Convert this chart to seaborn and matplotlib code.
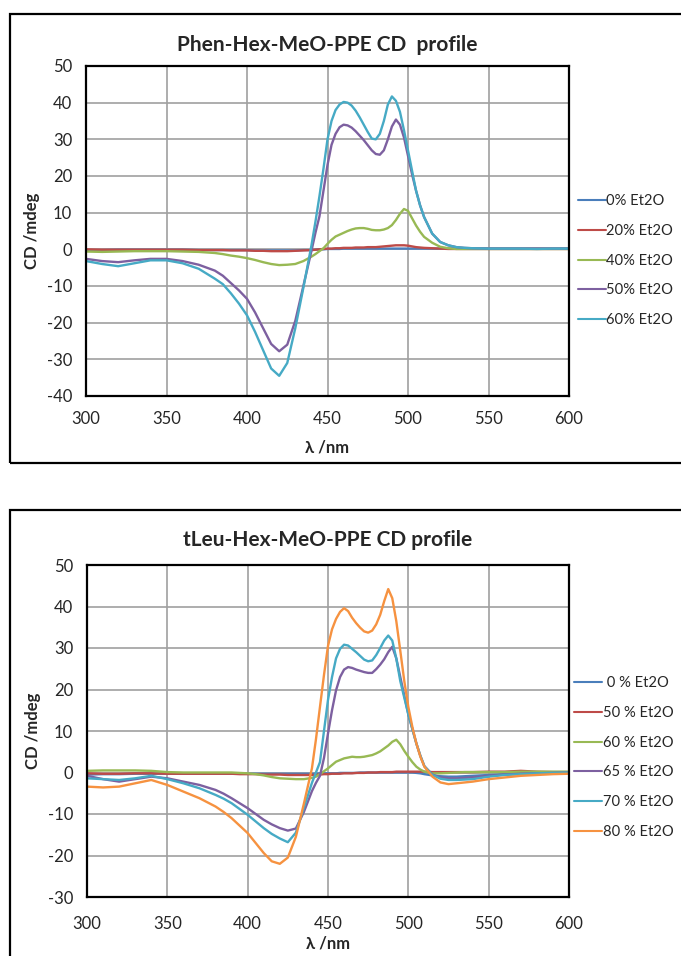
import matplotlib
matplotlib.use("Agg")
import matplotlib.pyplot as plt
from matplotlib.patches import Rectangle
from matplotlib.ticker import MultipleLocator, FuncFormatter
import seaborn as sns
import pandas as pd

# ---------------------------------------------------------------- data
wavelength = [300, 310, 320, 330, 340, 350, 360, 370, 380,
              385, 390, 395, 400, 405, 410, 415, 420, 425, 430, 435,
              440, 442.5, 445, 447.5, 450, 452.5, 455, 457.5, 460, 462.5,
              465, 467.5, 470, 472.5, 475, 477.5, 480, 482.5, 485, 487.5,
              490, 492.5, 495, 497.5, 500, 502.5, 505, 507.5, 510,
              515, 520, 525, 530, 535,
              540, 550, 560, 570, 580, 590, 600]

# Phen-Hex-MeO-PPE, CD (mdeg) vs Et2O content
phen_labels = ["0% Et2O", "20% Et2O", "40% Et2O", "50% Et2O", "60% Et2O"]
phen_0 = [-0.2, -0.2, -0.1, -0.1, -0.1, -0.1, -0.1, -0.2, -0.2,
          -0.2, -0.2, -0.2, -0.2, -0.3, -0.3, -0.3, -0.3, -0.3, -0.3, -0.2,
          -0.2, -0.1, 0.0, 0.0, 0.1, 0.1, 0.1, 0.1, 0.2, 0.2,
          0.2, 0.2, 0.2, 0.2, 0.2, 0.2, 0.2, 0.2, 0.2, 0.2,
          0.2, 0.2, 0.2, 0.2, 0.2, 0.2, 0.2, 0.2, 0.2,
          0.2, 0.2, 0.2, 0.2, 0.2,
          0.2, 0.2, 0.2, 0.2, 0.2, 0.2, 0.2]
phen_20 = [0.0, -0.1, -0.1, -0.1, -0.1, -0.1, -0.1, -0.2, -0.2,
           -0.2, -0.3, -0.3, -0.3, -0.4, -0.4, -0.5, -0.5, -0.5, -0.4, -0.3,
           -0.2, -0.1, 0.0, 0.1, 0.2, 0.2, 0.3, 0.3, 0.4, 0.4,
           0.4, 0.5, 0.5, 0.5, 0.6, 0.6, 0.6, 0.7, 0.8, 0.9,
           1.0, 1.1, 1.1, 1.1, 1.0, 0.8, 0.6, 0.5, 0.4,
           0.3, 0.2, 0.1, 0.1, 0.1,
           0.1, 0.1, 0.1, 0.1, 0.1, 0.1, 0.1]
phen_40 = [-0.6, -0.7, -0.6, -0.5, -0.5, -0.5, -0.6, -0.7, -1.0,
           -1.3, -1.7, -2.0, -2.4, -2.9, -3.5, -4.0, -4.3, -4.2, -4.0, -3.2,
           -2.0, -1.3, -0.5, 0.3, 1.5, 2.6, 3.5, 4.0, 4.5, 5.0,
           5.4, 5.7, 5.8, 5.8, 5.6, 5.3, 5.2, 5.2, 5.4, 5.8,
           6.6, 8.0, 9.7, 11.0, 10.5, 8.5, 6.5, 4.8, 3.4,
           1.8, 0.7, 0.3, 0.1, 0.1,
           0.1, 0.1, 0.1, 0.1, 0.1, 0.1, 0.1]
phen_50 = [-2.6, -3.2, -3.5, -3.0, -2.6, -2.6, -3.2, -4.2, -5.8,
           -7.2, -9.2, -11.2, -13.5, -17.2, -21.5, -25.8, -27.8, -26.0, -19.5, -10.0,
           -0.5, 4.5, 9.0, 16.0, 23.0, 28.5, 31.5, 33.3, 34.0, 33.8,
           33.2, 32.2, 31.0, 29.8, 28.4, 27.0, 26.0, 25.8, 27.0, 30.0,
           33.5, 35.4, 34.0, 30.5, 25.5, 20.5, 16.0, 12.0, 8.8,
           4.3, 2.0, 1.1, 0.6, 0.4,
           0.3, 0.2, 0.2, 0.2, 0.2, 0.2, 0.2]
phen_60 = [-3.2, -4.0, -4.6, -3.8, -3.0, -3.0, -3.8, -5.3, -8.0,
           -9.5, -12.0, -14.8, -18.0, -22.5, -27.5, -32.5, -34.5, -31.0, -21.5, -10.5,
           1.0, 7.5, 14.5, 22.0, 30.0, 35.0, 38.0, 39.5, 40.2, 40.0,
           39.2, 37.8, 36.0, 34.0, 32.0, 30.2, 30.0, 31.5, 35.0, 39.5,
           41.7, 40.5, 37.5, 32.5, 27.0, 21.5, 16.0, 12.0, 8.8,
           4.3, 2.0, 1.1, 0.6, 0.4,
           0.3, 0.2, 0.2, 0.2, 0.1, 0.2, 0.2]

# tLeu-Hex-MeO-PPE, CD (mdeg) vs Et2O content
tleu_labels = [" 0 % Et2O", "50 % Et2O", "60 % Et2O", "65 % Et2O",
               "70 % Et2O", "80 % Et2O"]
tleu_0 = [-0.5, -0.4, -0.4, -0.3, -0.3, -0.3, -0.3, -0.3, -0.3,
          -0.3, -0.3, -0.3, -0.3, -0.3, -0.3, -0.3, -0.3, -0.3, -0.3, -0.3,
          -0.3, -0.3, -0.2, -0.2, -0.2, -0.2, -0.2, -0.1, -0.1, -0.1,
          -0.1, -0.1, 0.0, 0.0, 0.0, 0.0, 0.0, 0.0, 0.0, 0.0,
          0.0, 0.0, 0.0, 0.0, 0.0, 0.0, -0.1, -0.2, -0.4,
          -0.7, -0.9, -1.0, -1.0, -0.9,
          -0.8, -0.6, -0.4, -0.3, -0.2, -0.2, -0.1]
tleu_50 = [-0.2, -0.3, -0.3, -0.2, -0.2, -0.3, -0.3, -0.3, -0.3,
           -0.3, -0.3, -0.4, -0.4, -0.4, -0.5, -0.5, -0.5, -0.6, -0.6, -0.6,
           -0.6, -0.5, -0.5, -0.4, -0.4, -0.3, -0.3, -0.3, -0.2, -0.2,
           -0.2, -0.1, -0.1, -0.1, 0.0, 0.0, 0.0, 0.1, 0.1, 0.1,
           0.1, 0.2, 0.2, 0.2, 0.2, 0.2, 0.2, 0.2, 0.2,
           0.1, 0.1, 0.1, 0.1, 0.1,
           0.1, 0.2, 0.2, 0.4, 0.2, 0.1, 0.1]
tleu_60 = [0.4, 0.5, 0.5, 0.5, 0.4, 0.1, 0.0, 0.0, 0.0,
           0.0, 0.0, -0.1, -0.2, -0.4, -0.7, -1.1, -1.4, -1.5, -1.6, -1.6,
           -1.3, -1.0, -0.4, 0.3, 1.0, 1.8, 2.6, 3.0, 3.4, 3.6,
           3.8, 3.7, 3.7, 3.8, 4.0, 4.2, 4.6, 5.1, 5.8, 6.5,
           7.4, 7.9, 6.8, 5.2, 3.8, 2.5, 1.4, 0.7, 0.2,
           -0.2, -0.2, -0.1, 0.0, 0.1,
           0.1, 0.1, 0.1, 0.2, 0.2, 0.2, 0.2]
tleu_65 = [-0.8, -1.6, -2.2, -1.6, -1.0, -1.4, -2.2, -3.0, -4.2,
           -5.1, -6.2, -7.4, -8.6, -10.0, -11.4, -12.5, -13.4, -14.0, -13.5, -9.5,
           -4.5, -2.5, -0.8, 3.5, 9.4, 15.0, 19.8, 23.0, 24.8, 25.4,
           25.2, 24.8, 24.5, 24.2, 24.0, 24.0, 24.9, 26.0, 27.3, 29.0,
           30.3, 27.5, 23.0, 18.5, 14.0, 10.5, 7.0, 4.0, 1.5,
           -0.5, -1.2, -1.4, -1.4, -1.3,
           -1.2, -0.8, -0.5, -0.3, -0.2, -0.1, 0.0]
tleu_70 = [-1.4, -1.6, -1.8, -1.4, -0.8, -1.6, -2.6, -3.8, -5.4,
           -6.3, -7.4, -8.8, -10.2, -11.8, -13.4, -14.8, -15.9, -16.8, -14.5, -8.5,
           -2.5, 0.0, 2.5, 10.0, 17.5, 23.0, 27.5, 29.8, 30.8, 30.6,
           29.8, 29.0, 28.1, 27.2, 26.8, 27.0, 28.3, 30.0, 31.8, 33.0,
           31.8, 27.5, 22.0, 18.0, 14.0, 10.5, 7.0, 4.0, 1.5,
           -0.6, -1.5, -1.8, -1.8, -1.7,
           -1.6, -1.0, -0.6, -0.4, -0.2, -0.1, 0.0]
tleu_80 = [-3.4, -3.6, -3.4, -2.6, -1.8, -3.0, -4.6, -6.2, -8.2,
           -9.5, -11.0, -12.8, -14.6, -17.0, -19.4, -21.4, -22.0, -20.5, -15.5, -7.5,
           1.0, 8.0, 15.8, 23.5, 30.5, 34.5, 37.0, 38.7, 39.6, 38.9,
           37.3, 36.0, 34.9, 34.0, 33.7, 34.2, 35.7, 38.0, 41.3, 44.2,
           42.0, 36.5, 29.3, 22.0, 15.8, 11.0, 7.0, 3.8, 1.4,
           -1.0, -2.4, -2.8, -2.6, -2.4,
           -2.2, -1.6, -1.2, -0.8, -0.6, -0.4, -0.3]

phen_series = [phen_0, phen_20, phen_40, phen_50, phen_60]
tleu_series = [tleu_0, tleu_50, tleu_60, tleu_65, tleu_70, tleu_80]

# Office-style line colours
colors = ["#4A7EBB", "#BE4B48", "#98B954", "#7D60A0", "#46AAC5", "#F69240"]

# ---------------------------------------------------------------- style
sns.set_style("white")
plt.rcParams["font.family"] = ["Lato", "DejaVu Sans"]
plt.rcParams["axes.unicode_minus"] = False

W, H = 681, 956
fig = plt.figure(figsize=(W / 100, H / 100), dpi=100)
fig.patch.set_facecolor("white")

# outer chart frames
for (y_top, y_bot) in [(14, 463), (510, 980)]:
    fig.patches.append(Rectangle((10 / W, 1 - y_bot / H), (700 - 10) / W,
                                 (y_bot - y_top) / H, transform=fig.transFigure,
                                 fill=False, edgecolor="black", linewidth=1.6,
                                 zorder=0))


def panel(rect, series, labels, ymin, title, legend_x, legend_y,
          title_pad, xtick_pad, xlab_pad):
    ax = fig.add_axes(rect)
    frame = pd.DataFrame({"wavelength": wavelength})
    for vals, lab, col in zip(series, labels, colors):
        sns.lineplot(x=frame["wavelength"], y=vals, ax=ax, color=col,
                     linewidth=1.7, label=lab)
    ax.set_xlim(300, 600)
    ax.set_ylim(ymin, 50)
    ax.xaxis.set_major_locator(MultipleLocator(50))
    ax.yaxis.set_major_locator(MultipleLocator(10))
    ax.yaxis.set_major_formatter(FuncFormatter(lambda v, p: "%d" % round(v)))
    ax.grid(True, color="#a0a0a0", linewidth=1.2)
    ax.set_axisbelow(True)
    for s in ax.spines.values():
        s.set_color("black")
        s.set_linewidth(1.6)
    ax.tick_params(axis="both", direction="out", length=4, width=1,
                   color="#555555", labelsize=12, pad=6)
    ax.tick_params(axis="x", pad=xtick_pad)
    ax.set_title(title, fontsize=15, fontweight="bold", pad=title_pad)
    ax.set_xlabel("λ /nm", fontsize=12, fontweight="bold", labelpad=xlab_pad)
    ax.set_ylabel("CD /mdeg", fontsize=12, fontweight="bold", labelpad=5)
    leg = ax.legend(loc="center left", bbox_to_anchor=(legend_x, legend_y),
                    frameon=False, fontsize=10.6, handlelength=1.9,
                    handletextpad=0.05, labelspacing=1.07, borderpad=0,
                    borderaxespad=0)
    for h in leg.get_lines():
        h.set_linewidth(1.5)
    return ax


panel([86 / W, 1 - 396 / H, 483 / W, 330 / H], phen_series, phen_labels, -40,
      "Phen-Hex-MeO-PPE CD  profile", 1.018, 0.41, 11, 7, 9)
panel([87 / W, 1 - 897 / H, 482 / W, 332 / H], tleu_series, tleu_labels, -30,
      "tLeu-Hex-MeO-PPE CD profile", 1.01, 0.42, 14, 10, 2)

fig.savefig("out.png", dpi=100, facecolor="white")
